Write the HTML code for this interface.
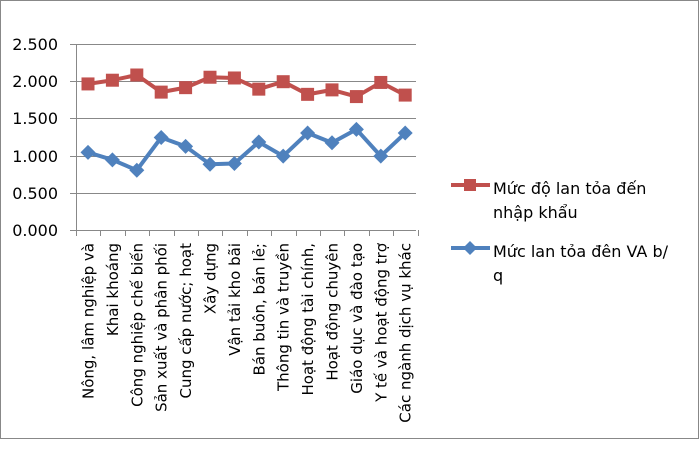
<!DOCTYPE html>
<html><head><meta charset="utf-8"><style>
html,body{margin:0;padding:0;background:#fff;}
svg text{font-family:"DejaVu Sans","Liberation Sans",sans-serif;fill:#000;}
</style></head><body>
<svg width="700" height="450" viewBox="0 0 700 450" xmlns="http://www.w3.org/2000/svg">
<rect x="0.5" y="0.5" width="698" height="438" fill="#fff" stroke="#888" stroke-width="1"/>
<g stroke="#888" stroke-width="1">
<line x1="70" y1="44.5" x2="416" y2="44.5"/>
<line x1="70" y1="81.5" x2="416" y2="81.5"/>
<line x1="70" y1="118.5" x2="416" y2="118.5"/>
<line x1="70" y1="156.5" x2="416" y2="156.5"/>
<line x1="70" y1="193.5" x2="416" y2="193.5"/>
<line x1="70" y1="230.5" x2="416" y2="230.5"/>
<line x1="76.5" y1="44" x2="76.5" y2="236"/>
</g>
<g stroke="#888" stroke-width="1" id="ticks"></g>
<g font-size="16" text-anchor="end">
<text x="58" y="50">2.500</text>
<text x="58" y="87">2.000</text>
<text x="58" y="124">1.500</text>
<text x="58" y="162">1.000</text>
<text x="58" y="199">0.500</text>
<text x="58" y="236">0.000</text>
</g>
<g id="plot"></g>
<g id="labels" font-size="15" text-anchor="end"></g>
<line x1="451" y1="185" x2="490" y2="185" stroke="#c0504d" stroke-width="4"/>
<rect x="464" y="179" width="12" height="12" fill="#c0504d"/>
<line x1="451" y1="248" x2="490" y2="248" stroke="#4f81bd" stroke-width="4"/>
<polygon points="470,241 477,248 470,255 463,248" fill="#4f81bd"/>
<g font-size="16">
<text x="493" y="194">Mức độ lan tỏa đến</text>
<text x="493" y="218">nhập khẩu</text>
<text x="493" y="257">Mức lan tỏa đên VA b/</text>
<text x="493" y="281">q</text>
</g>
<script>
var ns="http://www.w3.org/2000/svg";
var red=[1.97,2.02,2.09,1.86,1.92,2.06,2.05,1.90,2.00,1.83,1.89,1.80,1.99,1.82];
var blue=[1.05,0.95,0.81,1.25,1.13,0.89,0.90,1.19,1.00,1.31,1.18,1.36,1.00,1.31];
var labs=["Nông, lâm nghiệp và","Khai khoáng","Công nghiệp chế biến","Sản xuất và phân phối","Cung cấp nước; hoạt","Xây dựng","Vận tải kho bãi","Bán buôn, bán lẻ;","Thông tin và truyền","Hoạt động tài chính,","Hoạt động chuyên","Giáo dục và đào tạo","Y tế và hoạt động trợ","Các ngành dịch vụ khác"];
function X(i){return 88+i*24.4;}
function Y(v){return 230.5-v*74.4;}
var t=document.getElementById("ticks"),p=document.getElementById("plot"),l=document.getElementById("labels");
for(var i=0;i<=14;i++){var ln=document.createElementNS(ns,"line");var x=Math.round(76+i*24.4)+0.5;ln.setAttribute("x1",x);ln.setAttribute("x2",x);ln.setAttribute("y1",230);ln.setAttribute("y2",236);t.appendChild(ln);}
function series(d,c,shape){var pts=d.map(function(v,i){return X(i)+","+Y(v);}).join(" ");
var pl=document.createElementNS(ns,"polyline");pl.setAttribute("points",pts);pl.setAttribute("fill","none");pl.setAttribute("stroke",c);pl.setAttribute("stroke-width","4");pl.setAttribute("stroke-linejoin","round");p.appendChild(pl);
d.forEach(function(v,i){var x=X(i),y=Y(v),m;
if(shape=="sq"){m=document.createElementNS(ns,"rect");m.setAttribute("x",x-6.5);m.setAttribute("y",y-6.5);m.setAttribute("width",13);m.setAttribute("height",13);}
else{m=document.createElementNS(ns,"polygon");m.setAttribute("points",x+","+(y-7.5)+" "+(x+7.5)+","+y+" "+x+","+(y+7.5)+" "+(x-7.5)+","+y);}
m.setAttribute("fill",c);p.appendChild(m);});}
series(red,"#c0504d","sq");series(blue,"#4f81bd","di");
labs.forEach(function(s,i){var tx=document.createElementNS(ns,"text");var x=X(i)+5.5,y=243;tx.setAttribute("transform","translate("+x+","+y+") rotate(-90)");tx.textContent=s;l.appendChild(tx);});
</script>
</svg>
</body></html>
